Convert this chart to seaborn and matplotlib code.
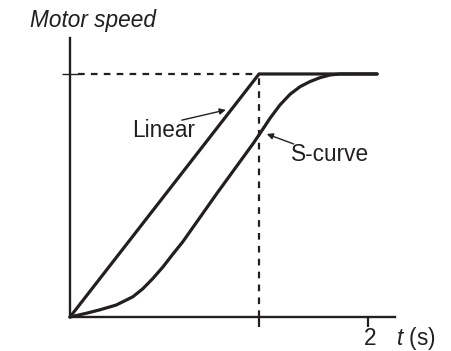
import numpy as np
import pandas as pd
import matplotlib
matplotlib.use("Agg")
import matplotlib.pyplot as plt
import seaborn as sns

# Acceleration profiles: time (s) vs normalised motor speed
linear_t = [0.0, 1.268, 2.06]
linear_v = [0.0, 1.0, 1.0]

scurve_t = [0.0, 0.107, 0.197, 0.309, 0.421, 0.488, 0.555, 0.622, 0.689,
            0.756, 0.987, 1.230, 1.275, 1.342, 1.409, 1.477, 1.544, 1.611,
            1.678, 1.745, 1.812, 2.06]
scurve_v = [0.0, 0.015, 0.029, 0.049, 0.083, 0.116, 0.158, 0.205, 0.258,
            0.309, 0.510, 0.715, 0.756, 0.818, 0.873, 0.917, 0.948, 0.969,
            0.985, 0.996, 1.0, 1.0]

ramp_time = 1.268      # end of the linear ramp
top_speed = 1.0
x_max, y_max = 2.18, 1.148

profile_labels = ["Linear", "S-curve"]
ink = "#231f20"

df = pd.concat([
    pd.DataFrame({"t": linear_t, "speed": linear_v, "profile": profile_labels[0]}),
    pd.DataFrame({"t": scurve_t, "speed": scurve_v, "profile": profile_labels[1]}),
], ignore_index=True)

sns.set_style("white")
plt.rcParams["font.family"] = ["Liberation Sans", "DejaVu Sans"]
plt.rcParams["mathtext.fontset"] = "custom"
plt.rcParams["mathtext.rm"] = "Liberation Sans"
plt.rcParams["mathtext.it"] = "Liberation Sans:italic"

fig = plt.figure(figsize=(4.52, 3.51), dpi=100)
ax = fig.add_axes([70 / 452, 34 / 351, 325 / 452, 279 / 351])

sns.lineplot(data=df, x="t", y="speed", hue="profile",
             palette={profile_labels[0]: ink, profile_labels[1]: ink},
             sort=False, estimator=None, linewidth=2.3, legend=False, ax=ax,
             clip_on=False)
for line in ax.lines:
    line.set_solid_joinstyle("round")
    line.set_solid_capstyle("round")

# reference guides at the end of the ramp
dash = (0, (3.0, 2.8))
ax.plot([0.054, ramp_time], [top_speed, top_speed], color=ink, lw=1.6,
        linestyle=dash, clip_on=False)
ax.plot([ramp_time, ramp_time], [0, top_speed], color=ink, lw=1.6,
        linestyle=dash, clip_on=False)

ax.set_xlim(0, x_max)
ax.set_ylim(0, y_max)
ax.set_xlabel("")
ax.set_ylabel("")

for side in ("top", "right"):
    ax.spines[side].set_visible(False)
for side in ("left", "bottom"):
    ax.spines[side].set_color(ink)
    ax.spines[side].set_linewidth(1.7)

ax.set_xticks([ramp_time, 2])
ax.set_xticklabels(["", ""])
ax.set_yticks([top_speed])
ax.set_yticklabels([""])
ax.tick_params(axis="x", bottom=True, direction="out", length=7.2, width=1.6,
               color=ink)
ax.tick_params(axis="y", left=True, direction="inout", length=11.5, width=1.0,
               color=ink)

fs = 16.3
label_y = -0.115
ax.text(2.01, label_y, "2", fontsize=fs, color=ink, ha="center",
        va="baseline", clip_on=False)
ax.text(2.19, label_y, "$t$ (s)", fontsize=fs, color=ink, ha="left",
        va="baseline", clip_on=False)

fig.text(30 / 452, 1 - 27 / 351, "Motor speed", fontsize=fs, color=ink,
         style="italic", ha="left", va="baseline")

ax.text(0.414, 0.741, profile_labels[0], fontsize=fs, color=ink,
        ha="left", va="baseline")
ax.text(1.483, 0.640, profile_labels[1], fontsize=fs, color=ink,
        ha="left", va="baseline")

arrow = dict(arrowstyle="-|>", color=ink, lw=1.0, mutation_scale=9,
             shrinkA=0, shrinkB=0)
ax.annotate("", xy=(1.045, 0.852), xytext=(0.75, 0.810), arrowprops=arrow)
ax.annotate("", xy=(1.320, 0.753), xytext=(1.50, 0.712), arrowprops=arrow)

fig.savefig("out.png", dpi=100)
